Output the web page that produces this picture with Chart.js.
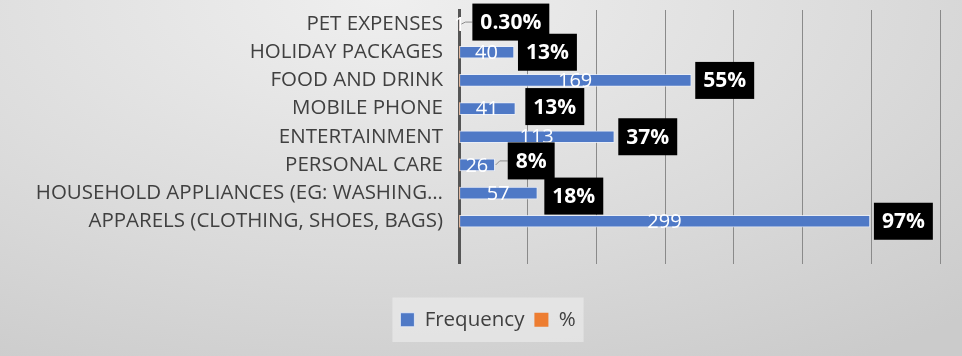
<!DOCTYPE html>
<html>
<head>
<meta charset="utf-8">
<script src="https://cdn.jsdelivr.net/npm/chart.js@4.4.1/dist/chart.umd.min.js"></script>
<style>
  html, body { margin: 0; padding: 0; }
  body {
    width: 962px; height: 356px; overflow: hidden;
    background: radial-gradient(ellipse 90% 120% at 40% 0%, #efefef 0%, #dadada 60%, #cbcbcb 100%);
  }
</style>
</head>
<body>
<canvas id="spendChart" width="962" height="356"></canvas>
<script>
  // Spending categories (top to bottom), last row is the blank spreadsheet row
  const categories = [
    'PET EXPENSES',
    'HOLIDAY PACKAGES',
    'FOOD AND DRINK',
    'MOBILE PHONE',
    'ENTERTAINMENT',
    'PERSONAL CARE',
    'HOUSEHOLD APPLIANCES (EG: WASHING…',
    'APPARELS (CLOTHING, SHOES, BAGS)',
    '',
  ];
  const frequency = [1, 40, 169, 41, 113, 26, 57, 299, null];
  const share = [0.003, 0.13, 0.55, 0.13, 0.37, 0.08, 0.18, 0.97, null];
  const shareText = ['0.30%', '13%', '55%', '13%', '37%', '8%', '18%', '97%', ''];
  const xTicks = [0, 50, 100, 150, 200, 250, 300, 350];

  const FONT = '"Open Sans", Lato, sans-serif';
  const BLUE = '#4f79c6';
  const ORANGE = '#ed7d31';

  // Hand-placed % callouts (Excel style): pixel nudges + leader line flag
  const nudges = {
    0: { dx: 8, dy: -2, leader: true },
    3: { dx: 6, dy: -2 },
    5: { dx: 9, dy: -4, leader: true },
    6: { dx: 3, dy: 3 },
  };

  const legendPanel = {
    id: 'legendPanel',
    beforeDraw(chart) {
      const boxes = chart.legend && chart.legend.legendHitBoxes;
      if (!boxes || !boxes.length) return;
      const first = boxes[0], last = boxes[boxes.length - 1];
      const ctx = chart.ctx;
      ctx.save();
      ctx.fillStyle = 'rgba(240,240,240,0.55)';
      ctx.fillRect(first.left - 8, first.top - 12, last.left + last.width - first.left + 16, first.height + 24);
      ctx.restore();
    },
  };

  const valueLabels = {
    id: 'valueLabels',
    afterDatasetsDraw(chart) {
      const ctx = chart.ctx;
      const xs = chart.scales.x;
      const bars = chart.getDatasetMeta(0).data;
      ctx.save();
      bars.forEach((bar, i) => {
        const v = frequency[i];
        if (v == null) return;
        // count, centred on the bar
        ctx.font = `20px ${FONT}`;
        ctx.fillStyle = '#ffffff';
        ctx.textAlign = 'center';
        ctx.textBaseline = 'middle';
        const cx = (xs.getPixelForValue(0) + bar.x) / 2;
        ctx.fillText(String(v), cx, bar.y + 1);
      });
      bars.forEach((bar, i) => {
        const t = shareText[i];
        if (!t) return;
        const n = nudges[i] || { dx: 0, dy: 0 };
        ctx.font = `bold 21px ${FONT}`;
        const w = ctx.measureText(t).width + 16;
        const h = 37;
        const left = bar.x + 4 + n.dx;
        const top = bar.y - h / 2 + n.dy;
        if (n.leader) {
          ctx.strokeStyle = '#8c8c8c';
          ctx.lineWidth = 1;
          ctx.beginPath();
          ctx.moveTo(bar.x + 1, bar.y);
          ctx.lineTo(bar.x + 5, bar.y + n.dy);
          ctx.lineTo(left, bar.y + n.dy);
          ctx.stroke();
        }
        ctx.fillStyle = '#000000';
        ctx.fillRect(left, top, w, h);
        ctx.fillStyle = '#ffffff';
        ctx.textAlign = 'center';
        ctx.textBaseline = 'middle';
        ctx.fillText(t, left + w / 2, top + h / 2 + 1);
      });
      ctx.restore();
    },
  };

  new Chart(document.getElementById('spendChart'), {
    type: 'bar',
    data: {
      labels: categories,
      datasets: [
        {
          label: 'Frequency',
          data: frequency,
          backgroundColor: BLUE,
          borderColor: 'rgba(235,240,250,0.8)',
          borderWidth: 1,
          borderSkipped: false,
          barThickness: 12,
          grouped: false,
          order: 1,
        },
        {
          label: '%',
          data: share,
          backgroundColor: ORANGE,
          barThickness: 12,
          grouped: false,
          order: 2,
        },
      ],
    },
    options: {
      indexAxis: 'y',
      responsive: false,
      animation: false,
      devicePixelRatio: 1,
      layout: { padding: { top: 10, right: 22, left: 36, bottom: 16 } },
      plugins: {
        legend: {
          position: 'bottom',
          labels: {
            boxWidth: 14, boxHeight: 14, padding: 10,
            color: '#404040', font: { family: FONT, size: 20.5 },
          },
        },
        tooltip: { enabled: false },
      },
      scales: {
        x: {
          min: 0, max: 350,
          afterBuildTicks: (s) => { s.ticks = xTicks.map((v) => ({ value: v })); },
          afterFit: (s) => { s.height = 36; },
          ticks: { display: false },
          border: { display: false },
          grid: { color: '#8a8a8a', lineWidth: 1, drawTicks: false },
        },
        y: {
          afterFit: (s) => { s.width = 423; s.paddingTop = 0; s.paddingBottom = 0; },
          ticks: { color: '#404040', padding: 16, autoSkip: false, font: { family: FONT, size: 20.5 } },
          grid: { display: false, drawTicks: false },
          border: { display: true, color: '#555555', width: 3 },
        },
      },
    },
    plugins: [legendPanel, valueLabels],
  });
</script>
</body>
</html>
